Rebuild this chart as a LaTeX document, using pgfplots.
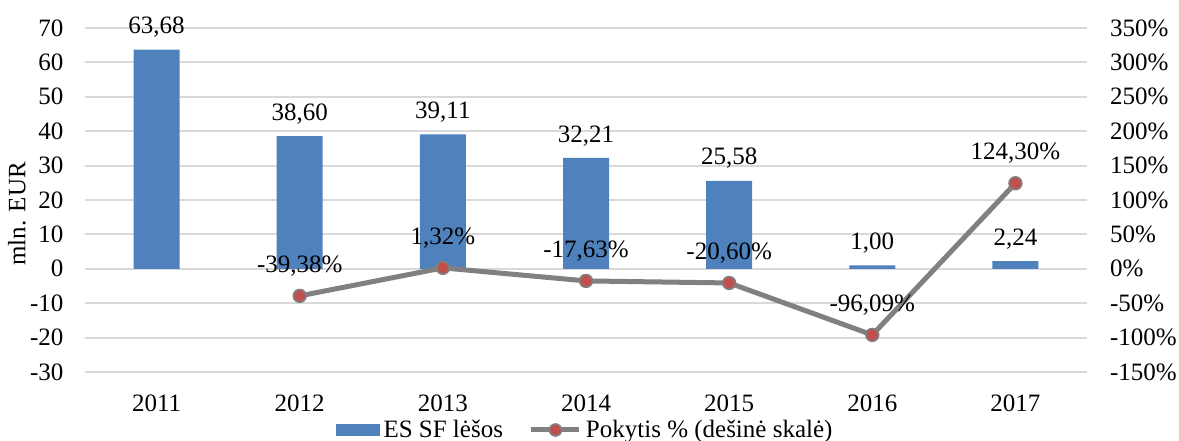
\documentclass[border=0pt]{standalone}
\usepackage{fontspec}
\setmainfont{Liberation Serif}
\usepackage{pgfplots}
\pgfplotsset{compat=1.18}
\definecolor{barblue}{HTML}{4F81BD}
\definecolor{linegray}{HTML}{808080}
\definecolor{mred}{HTML}{C0504D}
\definecolor{gridc}{HTML}{D9D9D9}
\pgfplotstableread{
x y label
0 63.68 63,68
1 38.60 38,60
2 39.11 39,11
3 32.21 32,21
4 25.58 25,58
5 1.00 1,00
6 2.24 2,24
}\bars
\pgfplotstableread{
x y label
1 -39.38 -39,38\%
2 1.32 1,32\%
3 -17.63 -17,63\%
4 -20.60 -20,60\%
5 -96.09 -96,09\%
6 124.30 124,30\%
}\change
\begin{document}
\begin{tikzpicture}[font=\fontsize{12.5}{15}\selectfont]
\begin{axis}[
 name=ax,
 scale only axis, width=501pt, height=172pt,
 xmin=-0.5, xmax=6.5, ymin=-30, ymax=70,
 xtick={0,...,6}, xticklabels={2011,2012,2013,2014,2015,2016,2017},
 ytick={-30,-20,...,70}, yticklabels={-30,-20,-10,0,10,20,30,40,50,60,70},
 ymajorgrids, grid style={gridc, line width=1pt},
 axis line style={draw=none}, major tick length=0pt,
 yticklabel style={xshift=-7.3pt},
 xticklabel style={yshift=-8pt},
 ylabel={mln. EUR}, ylabel style={at={(axis description cs:-0.052,0.46)}, anchor=south},
 legend style={at={(0.5,-0.1686)}, anchor=center, draw=none, fill=none, legend columns=2,
   /tikz/every even column/.append style={column sep=11pt}},
]
\addplot[fill=barblue, draw=none, ybar, bar width=23pt,
  nodes near coords, point meta=explicit symbolic,
  every node near coord/.append style={black, yshift=2.5pt},
  legend image code/.code={\fill[barblue] (0pt,-2.8pt) rectangle (22pt,2.8pt);}]
  table[x=x, y=y, meta=label]{\bars};
\addlegendentry{ES SF lėšos}
\addlegendimage{legend image code/.code={\draw[linegray, line width=2.5pt] (0pt,0pt)--(24pt,0pt);
  \fill[mred, draw=linegray, line width=0.8pt] (12pt,0pt) circle (3pt);}}
\addlegendentry{Pokytis \% (dešinė skalė)}
\end{axis}
\begin{axis}[
 scale only axis, width=501pt, height=172pt,
 xmin=-0.5, xmax=6.5, ymin=-150, ymax=350,
 axis y line*=right, hide x axis,
 ytick={-150,-100,...,350},
 yticklabels={-150\%,-100\%,-50\%,0\%,50\%,100\%,150\%,200\%,250\%,300\%,350\%},
 yticklabel style={xshift=8pt},
 axis line style={draw=none}, major tick length=0pt,
]
\addplot[linegray, line width=2.5pt, mark=*, mark size=3.2pt,
  mark options={fill=mred, draw=linegray, line width=0.8pt},
  nodes near coords, point meta=explicit symbolic,
  every node near coord/.append style={black, yshift=6pt}]
  table[x=x, y=y, meta=label]{\change};
\end{axis}
\pgfresetboundingbox
\path ([shift={(-42.5pt,-34.5pt)}]ax.south west) rectangle ([shift={(46pt,14pt)}]ax.north east);
\end{tikzpicture}
\end{document}
